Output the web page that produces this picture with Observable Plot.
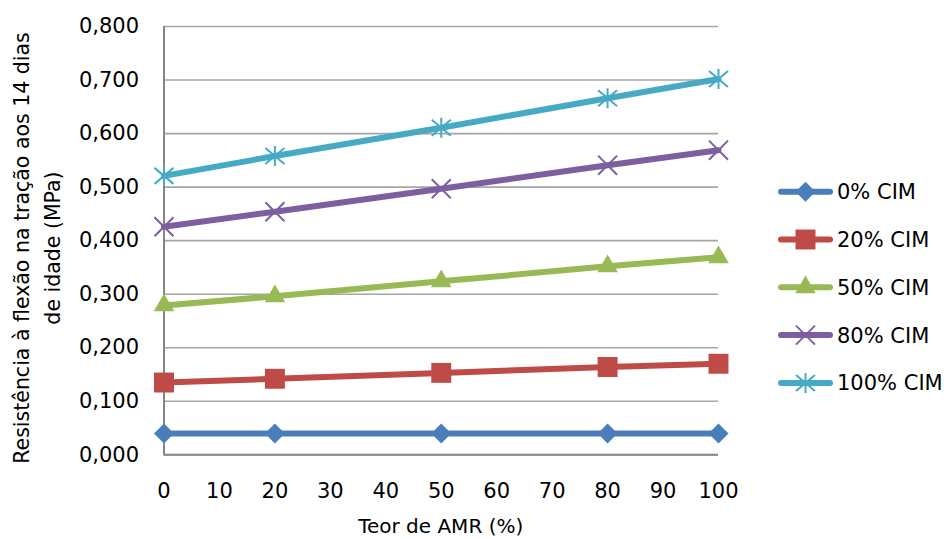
<!DOCTYPE html>
<html><head><meta charset="utf-8">
<script src="https://cdn.jsdelivr.net/npm/d3@7"></script>
<script src="https://cdn.jsdelivr.net/npm/@observablehq/plot@0.6"></script>
<style>
body{margin:0;background:#fff;}
#wrap{position:relative;width:947px;height:539px;overflow:hidden;font-family:"DejaVu Sans",sans-serif;background:#fff;}
#wrap svg{display:block;}
#legend{position:absolute;left:0;top:0;pointer-events:none;}
</style></head><body><div id="wrap"></div>
<script>
// Data
const amr = [0, 20, 50, 80, 100];
const seriesNames = ["0% CIM", "20% CIM", "50% CIM", "80% CIM", "100% CIM"];
const cim0   = [0.040, 0.040, 0.040, 0.040, 0.040];
const cim20  = [0.135, 0.142, 0.153, 0.164, 0.170];
const cim50  = [0.279, 0.296, 0.324, 0.352, 0.369];
const cim80  = [0.426, 0.454, 0.497, 0.541, 0.569];
const cim100 = [0.521, 0.558, 0.611, 0.666, 0.702];
const xTicks = [0, 10, 20, 30, 40, 50, 60, 70, 80, 90, 100];
const yTicks = [0, 0.1, 0.2, 0.3, 0.4, 0.5, 0.6, 0.7, 0.8];
const xTitle = "Teor de AMR (%)";
const yTitle1 = "Resistência à flexão na tração aos 14 dias";
const yTitle2 = "de idade (MPa)";

const colors = ["#4a7ebb", "#be4b48", "#98b954", "#7d5fa0", "#46aac5"];
const filled = [true, true, true, false, false];
const radii = [9, 12.7, 9.8, 8.7, 10];

// Excel-style asterisk: vertical bar plus an X
const excelAsterisk = {
  draw(context, size) {
    const r = Math.sqrt(size / Math.PI);
    const hx = r * 0.95, hy = r * 0.8;
    context.moveTo(0, -r); context.lineTo(0, r);
    context.moveTo(-hx, -hy); context.lineTo(hx, hy);
    context.moveTo(-hx, hy); context.lineTo(hx, -hy);
  }
};
const symbols = ["diamond2", "square2", "triangle2", "times", excelAsterisk];

const allSeries = [cim0, cim20, cim50, cim80, cim100];
const rows = [];
allSeries.forEach((vals, i) => vals.forEach((v, j) => rows.push({series: seriesNames[i], x: amr[j], y: v, i})));

const fmt = d => d.toFixed(3).replace(".", ",");
const FS = 21;

const dotMarks = seriesNames.map((s, i) => Plot.dot(rows.filter(r => r.i === i), {
  x: "x", y: "y", symbol: symbols[i], r: radii[i],
  fill: filled[i] ? colors[i] : "none",
  stroke: filled[i] ? "none" : colors[i],
  strokeWidth: filled[i] ? 0 : 2
}));

const chart = Plot.plot({
  width: 947, height: 539,
  marginLeft: 163.5, marginRight: 229, marginTop: 26, marginBottom: 84.7,
  x: {domain: [0, 100]},
  y: {domain: [0, 0.8]},
  color: {domain: seriesNames, range: colors},
  style: {fontFamily: "DejaVu Sans", fontSize: FS + "px", color: "#000", background: "#fff"},
  marks: [
    Plot.gridY(yTicks, {stroke: "#a6a6a6", strokeOpacity: 1, strokeWidth: 1.6}),
    Plot.ruleX([0], {stroke: "#868686", strokeWidth: 2}),
    Plot.ruleY([0], {stroke: "#868686", strokeWidth: 2}),
    Plot.axisY(yTicks, {tickSize: 0, tickPadding: 25, tickFormat: fmt, label: null, fontSize: FS, fill: "#000"}),
    Plot.axisX(xTicks, {tickSize: 0, tickPadding: 28, tickFormat: d => String(d), label: null, fontSize: FS, fill: "#000"}),
    Plot.line(rows, {x: "x", y: "y", z: "series", stroke: "series", strokeWidth: 6}),
    ...dotMarks
  ]
});

const wrap = document.getElementById("wrap");
wrap.appendChild(chart);

// Axis titles
const svg = d3.select(chart);
svg.append("text").attr("x", 440.7).attr("y", 533).attr("text-anchor", "middle")
  .attr("font-size", 20).attr("fill", "#000").text(xTitle);
svg.append("text").attr("transform", "translate(29,248) rotate(-90)").attr("text-anchor", "middle")
  .attr("font-size", 20.5).attr("fill", "#000").text(yTitle1);
svg.append("text").attr("transform", "translate(60,248) rotate(-90)").attr("text-anchor", "middle")
  .attr("font-size", 20.5).attr("fill", "#000").text(yTitle2);

// Legend (overlay)
const leg = d3.select(wrap).append("svg").attr("id", "legend").attr("width", 947).attr("height", 539);
const symMap = {diamond2: d3.symbolDiamond2, square2: d3.symbolSquare2, triangle2: d3.symbolTriangle2, times: d3.symbolTimes};
seriesNames.forEach((s, i) => {
  const cy = 191.7 + i * 47.8;
  const g = leg.append("g").attr("transform", `translate(0,${cy})`);
  g.append("line").attr("x1", 781).attr("x2", 830).attr("y1", 0).attr("y2", 0)
    .attr("stroke", colors[i]).attr("stroke-width", 6).attr("stroke-linecap", "round");
  const symType = typeof symbols[i] === "string" ? symMap[symbols[i]] : symbols[i];
  const path = d3.symbol(symType, Math.PI * radii[i] * radii[i])();
  g.append("path").attr("d", path).attr("transform", "translate(805.5,0)")
    .attr("fill", filled[i] ? colors[i] : "none")
    .attr("stroke", filled[i] ? "none" : colors[i])
    .attr("stroke-width", filled[i] ? 0 : 2);
  g.append("text").attr("x", 837).attr("y", 0).attr("dy", "0.36em")
    .attr("font-size", FS).attr("font-family", "DejaVu Sans").attr("fill", "#000").text(s);
});
</script>
</body></html>
